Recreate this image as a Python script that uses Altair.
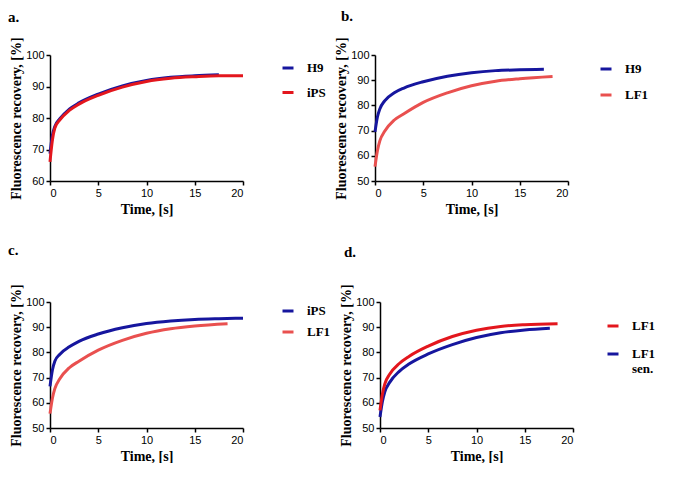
import altair as alt
import pandas as pd

# ---- data ----
a_h9_t = [0, 0.25, 0.5, 1, 2, 3, 5, 7.5, 10, 12.5, 15, 17.5]
a_h9_y = [68.7, 74.5, 77.3, 79.7, 82.8, 84.8, 87.6, 90.2, 91.9, 92.9, 93.4, 93.7]
a_ips_t = [0, 0.25, 0.5, 1, 2, 3, 5, 7.5, 10, 12.5, 15, 17.5, 20]
a_ips_y = [66.1, 73.0, 76.8, 79.3, 82.4, 84.4, 87.2, 89.8, 91.6, 92.6, 93.1, 93.4, 93.4]

b_h9_t = [0, 0.25, 0.5, 1, 2, 3, 5, 7.5, 10, 12.5, 15, 17.5]
b_h9_y = [69.5, 75.4, 78.6, 81.8, 85.0, 86.9, 89.4, 91.6, 93.0, 93.8, 94.1, 94.3]
b_lf1_t = [0, 0.25, 0.5, 1, 2, 3, 5, 7.5, 10, 12.5, 15, 18.4]
b_lf1_y = [55.7, 62.0, 65.9, 69.7, 74.2, 76.7, 81.2, 85.0, 87.8, 89.6, 90.6, 91.5]

c_ips_t = [0, 0.25, 0.5, 1, 2, 3, 5, 7.5, 10, 12.5, 15, 17.5, 20]
c_ips_y = [66.5, 73.0, 76.5, 79.2, 82.2, 84.4, 87.3, 89.8, 91.5, 92.5, 93.1, 93.4, 93.6]
c_lf1_t = [0, 0.25, 0.5, 1, 2, 3, 5, 7.5, 10, 12.5, 15, 18.4]
c_lf1_y = [55.7, 61.8, 65.6, 69.4, 73.9, 76.5, 80.9, 84.8, 87.6, 89.4, 90.5, 91.4]

d_lf1_t = [0, 0.25, 0.5, 1, 2, 3, 5, 7.5, 10, 12.5, 15, 18.4]
d_lf1_y = [57.0, 63.5, 67.5, 71.3, 75.6, 78.4, 82.5, 86.3, 88.8, 90.3, 91.0, 91.4]
d_sen_t = [0, 0.25, 0.5, 1, 2, 3, 5, 7.5, 10, 12.5, 15, 17.6]
d_sen_y = [54.4, 60.5, 64.4, 68.1, 72.5, 75.4, 79.4, 83.1, 85.9, 87.8, 88.9, 89.6]

x_ticks = [0, 5, 10, 15, 20]
BLUE = "#16169e"
RED = "#e3161d"
LRED = "#e9504f"

SERIF = "Liberation Serif"
SANS = "Liberation Sans"


def frame(series):
    rows = []
    for name, ts, ys in series:
        for t, v in zip(ts, ys):
            rows.append({"s": name, "t": t, "v": v})
    return pd.DataFrame(rows)


def panel(label, series, legend_order, colors, ymin, title_dx, title_off, leg_x, leg_y, row_pad):
    df = frame(series)
    yt = list(range(ymin, 101, 10))
    return alt.Chart(df).mark_line(strokeWidth=3, interpolate="monotone").encode(
        x=alt.X("t:Q", scale=alt.Scale(domain=[0, 20], nice=False),
                axis=alt.Axis(values=x_ticks, title="Time, [s]")),
        y=alt.Y("v:Q", scale=alt.Scale(domain=[ymin, 100], nice=False),
                axis=alt.Axis(values=yt, title="Fluorescence recovery, [%]")),
        color=alt.Color("s:N", sort=legend_order,
                        scale=alt.Scale(domain=legend_order, range=colors),
                        legend=alt.Legend(title=None, orient="none",
                                          legendX=leg_x, legendY=leg_y,
                                          rowPadding=row_pad,
                                          labelExpr="datum.label == 'LF1 sen.' ? ['LF1', 'sen.'] : datum.label")),
        order=alt.Order("t:Q"),
    ).properties(
        width=193, height=126,
        title=alt.TitleParams(label, anchor="start", frame="group", dx=title_dx, offset=title_off,
                              font=SERIF, fontSize=15, fontWeight="bold", color="black"),
    )


pa = panel("a.", [("H9", a_h9_t, a_h9_y), ("iPS", a_ips_t, a_ips_y)], ["H9", "iPS"], [BLUE, RED], 60,
           -42, 12, 231, 6, 10.5)
pb = panel("b.", [("H9", b_h9_t, b_h9_y), ("LF1", b_lf1_t, b_lf1_y)], ["H9", "LF1"], [BLUE, LRED], 50,
           -34, 13, 224, 7, 12)
pc = panel("c.", [("iPS", c_ips_t, c_ips_y), ("LF1", c_lf1_t, c_lf1_y)], ["iPS", "LF1"], [BLUE, LRED], 50,
           -42, 26, 231, 2, 7)
pd_ = panel("d.", [("LF1 sen.", d_sen_t, d_sen_y), ("LF1", d_lf1_t, d_lf1_y)], ["LF1", "LF1 sen."],
            [RED, BLUE], 50, -36, 24, 226, 17, 14)

top = alt.hconcat(pa, pb, spacing=8).resolve_scale(color="independent")
bottom = alt.hconcat(pc, pd_, spacing=8).resolve_scale(color="independent")

chart = alt.vconcat(top, bottom, spacing=26).resolve_scale(color="independent").properties(
    padding={"left": 0, "top": 0, "right": 0, "bottom": 0}
).configure_view(stroke=None).configure_axis(
    grid=False,
    domainColor="black", domainWidth=1.5,
    tickColor="black", tickWidth=1.5, tickSize=4,
    labelFont=SANS, labelFontSize=11, labelColor="black", labelPadding=2,
    titleFont=SERIF, titleFontSize=14, titleFontWeight="bold", titleColor="black",
).configure_axisY(titlePadding=2).configure_axisX(titlePadding=4).configure_legend(
    labelFont=SERIF, labelFontSize=13, labelFontWeight="bold", labelColor="black",
    symbolType="stroke", symbolStrokeWidth=3, symbolSize=121, labelOffset=12,
    padding=0, labelLimit=200,
)

chart.save("out.html", embed_options={"renderer": "svg", "actions": False})
